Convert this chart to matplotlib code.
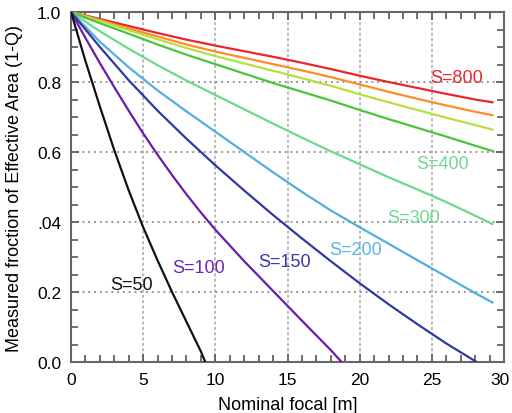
import matplotlib
matplotlib.use("Agg")
import matplotlib.pyplot as plt
import matplotlib.transforms as mtransforms
from matplotlib.ticker import MultipleLocator, FixedLocator

plt.rcParams['font.family'] = ['Liberation Sans', 'DejaVu Sans']

x_grid = [0, 2, 4, 6, 8, 10, 12, 14, 16, 18, 20, 22, 24, 26, 28, 29.2]

red_y = [1.0, 0.98, 0.96, 0.94, 0.921, 0.904, 0.888, 0.872, 0.855, 0.837, 0.818, 0.8, 0.783, 0.766, 0.75, 0.742]
orange_y = [1.0, 0.977, 0.953, 0.93, 0.907, 0.887, 0.869, 0.851, 0.833, 0.814, 0.793, 0.772, 0.752, 0.733, 0.715, 0.705]
yellow_y = [1.0, 0.975, 0.948, 0.922, 0.897, 0.874, 0.853, 0.832, 0.811, 0.789, 0.765, 0.742, 0.72, 0.698, 0.677, 0.664]
green_y = [1.0, 0.968, 0.938, 0.907, 0.878, 0.851, 0.824, 0.797, 0.772, 0.747, 0.72, 0.694, 0.669, 0.644, 0.618, 0.603]
s300_y = [1.0, 0.945, 0.895, 0.848, 0.804, 0.763, 0.722, 0.681, 0.641, 0.602, 0.565, 0.528, 0.493, 0.457, 0.418, 0.394]
s200_y = [1.0, 0.915, 0.842, 0.776, 0.716, 0.658, 0.6, 0.542, 0.486, 0.433, 0.385, 0.338, 0.291, 0.244, 0.197, 0.17]

s150_x = [0, 2, 4, 6, 8, 10, 12, 14, 16, 18, 20, 22, 24, 26, 28.1]
s150_y = [1.0, 0.9, 0.805, 0.718, 0.638, 0.562, 0.49, 0.42, 0.353, 0.288, 0.225, 0.165, 0.108, 0.053, 0.0]

s100_x = [0, 1, 2, 3, 4, 5, 6, 7, 8, 9, 10, 12, 14, 16, 18, 18.75]
s100_y = [1.0, 0.926, 0.854, 0.785, 0.718, 0.653, 0.592, 0.534, 0.479, 0.427, 0.378, 0.288, 0.203, 0.118, 0.034, 0.0]

s50_x = [0, 1, 2, 3, 4, 5, 6, 7, 8, 9, 9.3]
s50_y = [1.0, 0.86, 0.73, 0.605, 0.49, 0.385, 0.29, 0.2, 0.115, 0.03, 0.0]

label_texts = ["S=800", "S=400", "S=300", "S=200", "S=150", "S=100", "S=50"]
label_x = [24.9, 23.9, 21.9, 17.9, 13.0, 7.0, 2.7]
label_y = [0.814, 0.566, 0.414, 0.32, 0.286, 0.269, 0.22]
label_colors = ['#e8262b', '#6fd98e', '#72d990', '#5ab4e4', '#3538a8', '#7422b4', '#111111']

y_ticks = [0.0, 0.2, 0.4, 0.6, 0.8, 1.0]
y_ticklabels = ["0.0", "0.2", ".04", "0.6", "0.8", "1.0"]
x_ticks = [0, 5, 10, 15, 20, 25, 30]

fig = plt.figure(figsize=(5.12, 4.14), dpi=100)
ax = fig.add_axes([71/512, 51/414, 433/512, 350/414])

series = [
    (x_grid, red_y, '#e8262b'),
    (x_grid, orange_y, '#ff8c2a'),
    (x_grid, yellow_y, '#b6e03e'),
    (x_grid, green_y, '#4cc23e'),
    (x_grid, s300_y, '#6dd98c'),
    (x_grid, s200_y, '#52aee0'),
    (s150_x, s150_y, '#2f3aa0'),
    (s100_x, s100_y, '#6a1caa'),
    (s50_x, s50_y, '#111111'),
]
for xs, ys, c in series:
    ax.plot(xs, ys, color=c, lw=1.6, zorder=3)

for t, lx, ly, c in zip(label_texts, label_x, label_y, label_colors):
    ax.text(lx, ly, t, color=c, fontsize=13, ha='left', va='center', zorder=4)

ax.set_xlim(0, 30)
ax.set_ylim(0, 1.0)
ax.xaxis.set_major_locator(FixedLocator(x_ticks))
ax.yaxis.set_major_locator(FixedLocator(y_ticks))
ax.set_yticklabels(y_ticklabels)
ax.xaxis.set_minor_locator(MultipleLocator(1))
ax.yaxis.set_minor_locator(MultipleLocator(0.05))
ax.tick_params(which='both', direction='in', top=True, right=True,
               color='#555555', width=1.2)
ax.tick_params(which='major', length=6, labelsize=12.5, pad=7)
ax.tick_params(which='minor', length=5)

# nudge the last x tick label inward so it stays inside the figure
fig.canvas.draw()
last = ax.get_xticklabels()[-1]
last.set_transform(last.get_transform() +
                   mtransforms.ScaledTranslation(-4/100, 0, fig.dpi_scale_trans))

for s in ax.spines.values():
    s.set_color('#666666')
    s.set_linewidth(1.5)

for v in [5, 10, 15, 20, 25]:
    ax.axvline(v, color='#a8a8a8', lw=1.1, ls=(0, (2, 1.5)), zorder=1)
for v in [0.2, 0.4, 0.6, 0.8]:
    ax.axhline(v, color='#888888', lw=1.3, ls=(0, (1, 2.2)), zorder=1)

ax.set_xlabel("Nominal focal [m]", fontsize=13, labelpad=7)
ax.set_ylabel("Measured froction of Effective Area (1-Q)", fontsize=13, labelpad=10)

fig.savefig("out.png", dpi=100)
